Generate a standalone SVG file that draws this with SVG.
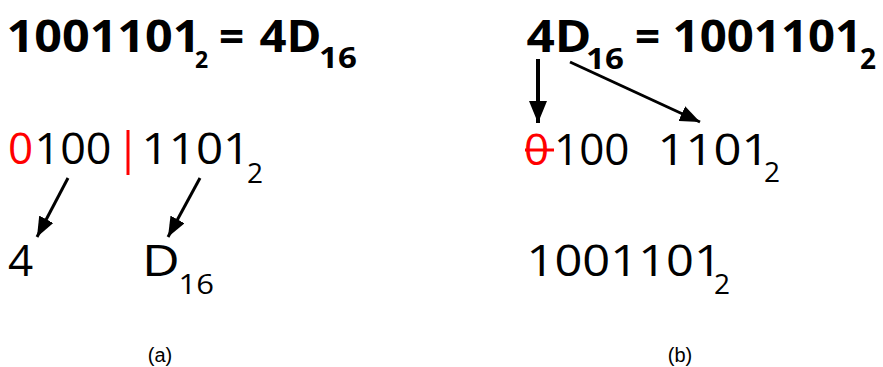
<svg xmlns="http://www.w3.org/2000/svg" width="883" height="367" viewBox="0 0 883 367">
  <style>
    text { font-family: "Open Sans", "Noto Sans", "DejaVu Sans", sans-serif; fill: #000; }
    .big { font-size: 44px; }
    .sub { font-size: 28px; }
    .small { font-size: 23px; }
    .bold { font-weight: 700; }
    .red { fill: #ff0000; }
    .cap { font-family: "Liberation Sans", Arial, sans-serif; font-size: 20px; text-anchor: middle; }
    .arrow { stroke: #000; stroke-width: 3; fill: none; marker-end: url(#head); }
    .arrow-b { stroke: #000; stroke-width: 4; fill: none; marker-end: url(#head-b); }
    .redline { stroke: #ff0000; stroke-width: 3; }
  </style>
  <defs>
    <marker id="head" markerUnits="userSpaceOnUse" viewBox="0 0 20 16" markerWidth="20" markerHeight="16" refX="20" refY="8" orient="auto">
      <path d="M0,0 L20,8 L0,16 z" fill="#000"/>
    </marker>
    <marker id="head-b" markerUnits="userSpaceOnUse" viewBox="0 0 22 18" markerWidth="22" markerHeight="18" refX="22" refY="9" orient="auto">
      <path d="M0,0 L22,9 L0,18 z" fill="#000"/>
    </marker>
  </defs>

  <!-- (a) binary to hexadecimal -->
  <g id="title-a">
    <text class="big bold" x="6.5" y="52" textLength="194" lengthAdjust="spacingAndGlyphs">1001101</text>
    <text class="small bold" x="195" y="68">2</text>
    <text class="big bold" x="219" y="52">=</text>
    <text class="big bold" x="259.5" y="52" textLength="62" lengthAdjust="spacingAndGlyphs">4D</text>
    <text class="sub bold" x="319" y="68" textLength="37.8" lengthAdjust="spacingAndGlyphs">16</text>
  </g>
  <g id="groups-a">
    <text class="big red" x="8" y="164">0</text>
    <text class="big" x="34.5" y="164" textLength="77" lengthAdjust="spacingAndGlyphs">100</text>
    <line class="redline" x1="128" y1="130" x2="128" y2="175"/>
    <text class="big" x="141.6" y="164" textLength="108.7" lengthAdjust="spacingAndGlyphs">1101</text>
    <text class="sub" x="247" y="183">2</text>
  </g>
  <g id="digit-4">
    <text class="big" x="8" y="276">4</text>
  </g>
  <g id="digit-d">
    <text class="big" x="141.9" y="276" textLength="37.8" lengthAdjust="spacingAndGlyphs">D</text>
    <text class="sub" x="178.5" y="294" textLength="35.5" lengthAdjust="spacingAndGlyphs">16</text>
  </g>

  <!-- (b) hexadecimal to binary -->
  <g id="title-b">
    <text class="big bold" x="526.5" y="52" textLength="65" lengthAdjust="spacingAndGlyphs">4D</text>
    <text class="sub bold" x="586" y="69" textLength="37.8" lengthAdjust="spacingAndGlyphs">16</text>
    <text class="big bold" x="635" y="52">=</text>
    <text class="big bold" x="672.6" y="52" textLength="189.6" lengthAdjust="spacingAndGlyphs">1001101</text>
    <text class="sub bold" x="860" y="69">2</text>
  </g>
  <g id="groups-b">
    <text class="big red" x="524" y="165">0</text>
    <line class="redline" x1="525" y1="150" x2="554" y2="150"/>
    <text class="big" x="554" y="165">100</text>
    <text class="big" x="657.4" y="165" textLength="112" lengthAdjust="spacingAndGlyphs">1101</text>
    <text class="sub" x="764" y="182">2</text>
  </g>
  <g id="result-b">
    <text class="big" x="526.5" y="276" textLength="195.4" lengthAdjust="spacingAndGlyphs">1001101</text>
    <text class="sub" x="714" y="294">2</text>
  </g>

  <g id="connectors">
    <line class="arrow" x1="68" y1="178" x2="37" y2="237"/>
    <line class="arrow" x1="200" y1="178" x2="168" y2="237"/>
    <line class="arrow-b" x1="538" y1="59" x2="538" y2="123"/>
    <line class="arrow" x1="570" y1="62" x2="700" y2="122"/>
  </g>

  <g id="captions">
    <text class="cap" x="160" y="362">(a)</text>
    <text class="cap" x="680" y="362">(b)</text>
  </g>
</svg>
